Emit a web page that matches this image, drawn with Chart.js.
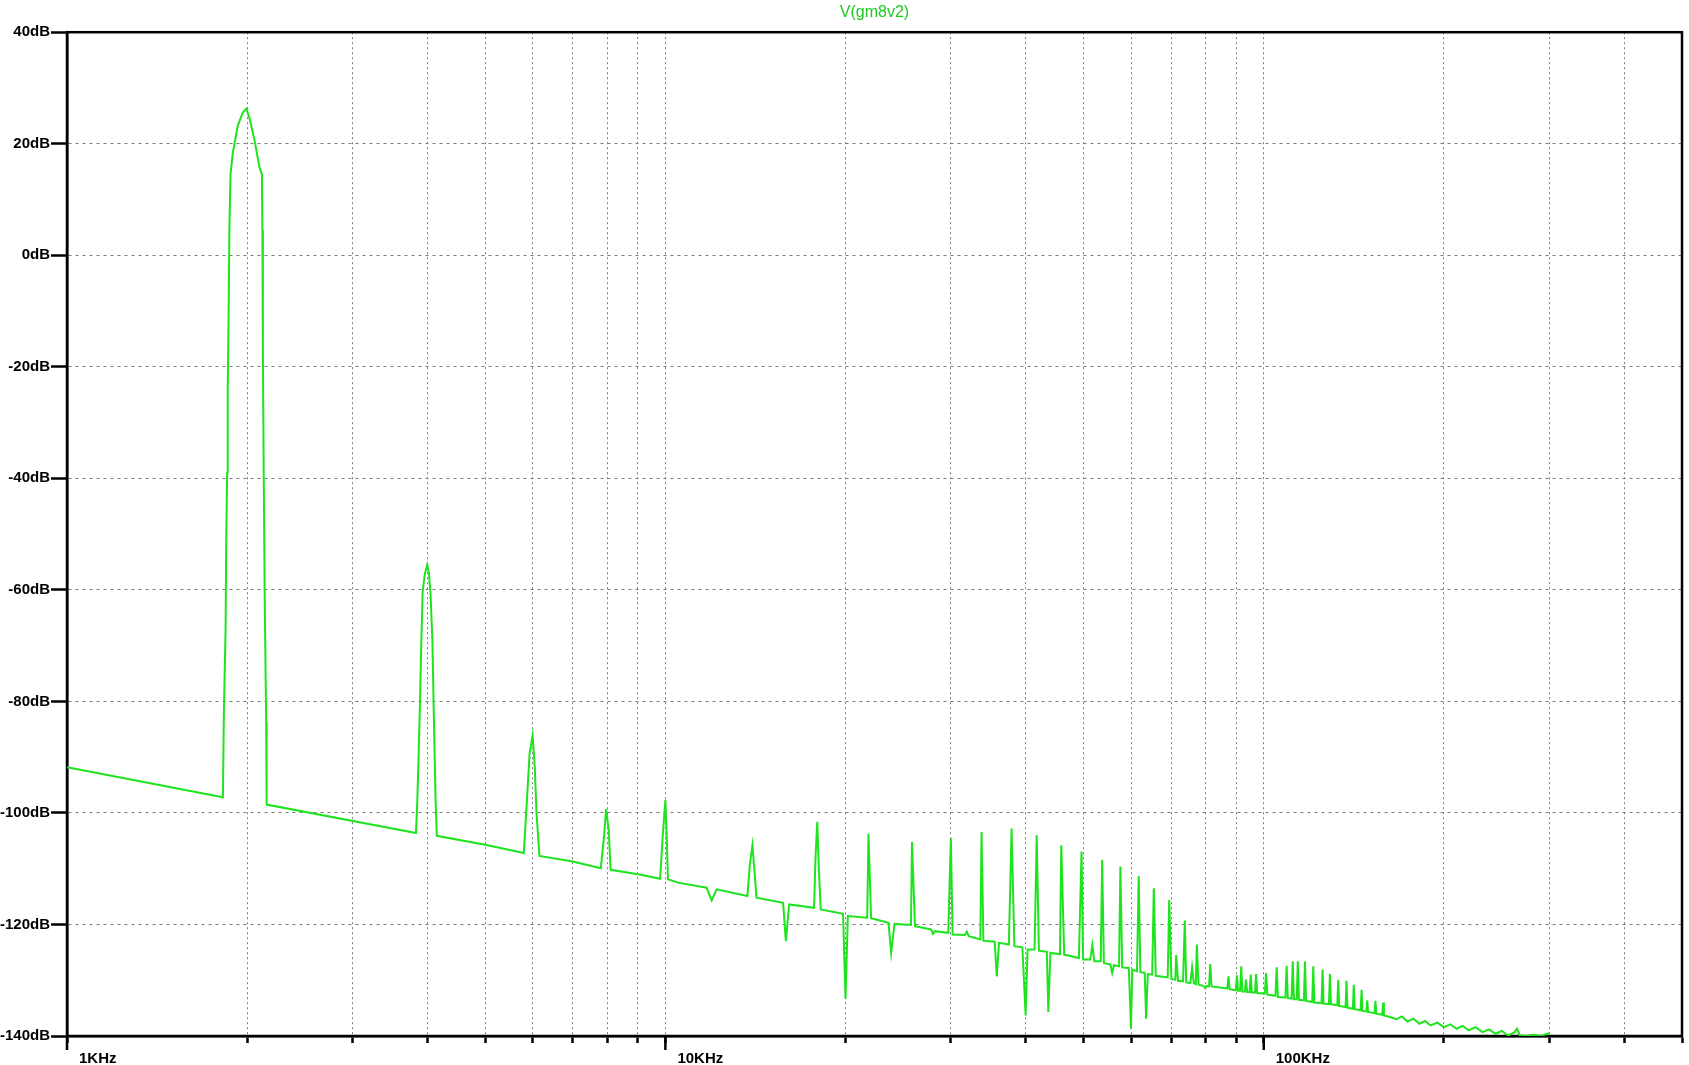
<!DOCTYPE html>
<html>
<head>
<meta charset="utf-8">
<script src="https://cdn.jsdelivr.net/npm/chart.js@4/dist/chart.umd.min.js"></script>
<style>
  html, body { margin: 0; padding: 0; background: #fff; }
  #wrap { width: 1689px; height: 1065px; position: relative; }
</style>
</head>
<body>
<div id="wrap"><canvas id="c"></canvas></div>
<script>
const traceName = 'V(gm8v2)';

// Frequency (kHz) and magnitude (dB)
const freqKHz = [
  1.0, 1.822, 1.829, 1.841, 1.845, 1.852, 1.856, 1.863, 1.868, 1.876, 1.893, 1.929, 1.967, 1.994,
  2.019, 2.058, 2.097, 2.117, 2.121, 2.125, 2.132, 2.140, 2.152, 2.156,
  3.830, 3.850, 3.870, 3.890, 3.910, 3.930, 3.965, 4.000, 4.025, 4.050, 4.080, 4.100, 4.130, 4.150,
  5.000, 5.800, 5.870, 5.930, 6.000, 6.050, 6.090, 6.160,
  7.000, 7.800, 7.900, 7.960, 8.040, 8.100,
  9.000, 9.800, 9.900, 10.00, 10.05, 10.10,
  10.50, 11.72, 11.95, 12.18, 13.71, 13.85, 13.98, 14.08, 14.20,
  15.73, 15.90, 16.10, 17.72, 17.82, 17.94, 18.05, 18.18,
  19.81, 20.00, 20.18, 21.74, 21.85, 22.07, 23.60, 23.84, 24.15,
  25.73, 25.83, 26.13, 27.80, 28.00, 28.20, 29.70, 30.00, 30.20,
  31.66, 31.90, 32.15, 33.60, 33.76, 34.00, 35.50, 35.80, 36.10,
  37.50, 37.90, 38.30, 39.50, 40.00, 40.30, 41.40, 41.74, 42.10,
  43.40, 43.65, 44.00, 45.65, 45.88, 46.40, 49.10, 49.60, 49.90,
  51.30, 51.70, 52.10, 53.40, 53.70, 54.05, 55.40, 55.80, 56.20,
  57.30, 57.60, 58.00, 59.50, 60.00, 60.30, 61.40, 61.80, 62.20,
  63.25, 63.60, 64.00, 65.10, 65.50, 66.00, 69.10, 69.50, 70.10,
  71.15, 71.40, 71.90, 73.30, 73.80, 74.20, 75.40, 75.90, 76.40,
  77.00, 77.30, 77.80, 79.30, 79.90, 80.35, 81.00, 81.40, 81.80,
  85.70, 86.90, 87.30, 87.70, 89.80, 90.20, 90.60, 91.30, 91.70,
  92.10, 93.00, 93.40, 93.80, 94.70, 95.10, 95.50, 96.70, 97.10,
  97.50, 100.4, 100.9, 101.4, 104.6, 105.1, 105.6, 108.7, 109.2,
  109.7, 111.3, 111.8, 112.3, 113.5, 114.0, 114.5, 116.7, 117.2,
  117.7, 120.5, 121.0, 121.5, 124.9, 125.4, 125.9, 128.5, 129.0,
  129.5, 132.7, 133.2, 133.7, 137.0, 137.5, 138.0, 140.9, 141.4,
  141.9, 145.2, 145.7, 146.2, 148.4, 148.9, 149.4, 153.2, 153.7,
  154.2, 157.8, 158.3, 158.8, 162.5, 166.6,
  170, 174, 178, 182, 186, 190, 195, 200,
  205, 210, 215, 220, 226, 232, 238, 244, 250,
  256, 262, 265, 268, 275, 282, 290, 300
];
const magDb = [
  -91.8, -97.2, -81.6, -66.8, -52.0, -39.0, -24.2, -9.4, 4.5, 14.5, 18.4, 23.2, 25.6, 26.3,
  24.5, 20.6, 15.8, 14.5, 4.5, -17.2, -39.8, -61.6, -83.7, -98.5,
  -103.6, -97.7, -89.4, -79.9, -69.2, -60.3, -57.0, -55.5, -57.0, -60.5, -69.2, -81.1, -97.7, -104.1,
  -105.7, -107.2, -97.7, -89.4, -86.1, -91.8, -100.0, -107.7,
  -108.7, -109.9, -104.0, -99.3, -103.0, -110.2,
  -111.0, -111.8, -104.0, -97.7, -104.0, -111.9,
  -112.5, -113.4, -115.7, -113.7, -114.9, -109.0, -105.8, -110.0, -115.2,
  -116.1, -123.0, -116.4, -117.0, -108.0, -101.6, -110.0, -117.3,
  -118.1, -133.3, -118.5, -118.8, -103.7, -118.9, -119.7, -125.1, -119.9,
  -120.1, -105.2, -120.3, -120.9, -121.7, -121.2, -121.5, -104.5, -121.8,
  -121.9, -121.3, -122.1, -122.7, -103.4, -122.9, -123.1, -129.3, -123.3,
  -123.6, -102.8, -123.9, -124.1, -136.3, -124.5, -124.5, -104.0, -124.7,
  -124.9, -135.7, -125.1, -125.3, -105.8, -125.4, -126.0, -106.9, -126.3,
  -126.3, -123.7, -126.6, -126.6, -108.4, -126.9, -127.2, -128.7, -127.3,
  -127.5, -109.6, -127.7, -127.8, -138.7, -128.1, -128.4, -111.3, -128.5,
  -128.7, -136.9, -128.9, -129.0, -113.5, -129.2, -129.5, -115.6, -129.8,
  -129.9, -125.5, -130.1, -130.2, -119.3, -130.4, -130.5, -127.7, -130.5,
  -130.7, -123.6, -130.8, -131.0, -131.4, -131.0, -131.1, -127.1, -131.1,
  -131.4, -131.5, -129.3, -131.6, -131.8, -129.1, -131.9, -131.9, -127.5,
  -132.0, -132.0, -129.9, -132.1, -132.1, -129.0, -132.2, -132.2, -128.9,
  -132.3, -132.4, -128.7, -132.6, -132.8, -127.7, -133.0, -133.1, -127.4,
  -133.2, -133.3, -126.6, -133.4, -133.4, -126.6, -133.5, -133.6, -126.6,
  -133.7, -133.9, -127.5, -134.0, -134.1, -128.1, -134.2, -134.3, -128.9,
  -134.3, -134.5, -129.9, -134.6, -134.8, -130.1, -134.9, -135.1, -130.8,
  -135.2, -135.4, -131.7, -135.5, -135.6, -133.6, -135.7, -135.9, -133.7,
  -136.0, -136.2, -134.0, -136.3, -136.6, -137.0,
  -136.5, -137.4, -136.9, -137.8, -137.3, -138.1, -137.6, -138.4,
  -137.9, -138.7, -138.2, -139.0, -138.4, -139.3, -138.8, -139.6, -139.1,
  -139.9, -139.4, -138.7, -139.9, -140.0, -139.8, -140.0, -139.5
];

// Axis ticks
const xTickValues = [
  1000, 2000, 3000, 4000, 5000, 6000, 7000, 8000, 9000,
  10000, 20000, 30000, 40000, 50000, 60000, 70000, 80000, 90000,
  100000, 200000, 300000, 400000, 500000
];
const xMajorTicks = [1000, 10000, 100000];
const xMajorLabels = ['1KHz', '10KHz', '100KHz'];
const yTickValues = [40, 20, 0, -20, -40, -60, -80, -100, -120, -140];
const yUnit = 'dB';

const axisFont = { family: "'Liberation Sans', Arial, sans-serif", size: 15, weight: 'bold' };
const gridColor = '#7c7c7c';
const traceColor = '#1ee41e';

const framePlugin = {
  id: 'frame',
  beforeDatasetsDraw(chart) {
    const { ctx, chartArea: a, scales: { x } } = chart;
    ctx.save();
    ctx.strokeStyle = '#000';
    ctx.lineWidth = 2.5;
    ctx.strokeRect(a.left, a.top, a.right - a.left, a.bottom - a.top);
    xMajorTicks.forEach(v => {
      const px = x.getPixelForValue(v);
      ctx.beginPath();
      ctx.moveTo(px, a.bottom);
      ctx.lineTo(px, a.bottom + 14);
      ctx.stroke();
    });
    ctx.restore();
  }
};

new Chart(document.getElementById('c'), {
  type: 'line',
  data: {
    datasets: [{
      label: traceName,
      data: freqKHz.map((f, i) => ({ x: f * 1000, y: magDb[i] })),
      borderColor: traceColor,
      borderWidth: 2,
      pointRadius: 0,
      tension: 0,
      fill: false
    }]
  },
  options: {
    responsive: true,
    maintainAspectRatio: false,
    animation: false,
    devicePixelRatio: 1,
    layout: { padding: { left: 0, right: 3, top: 0, bottom: 0 } },
    plugins: {
      legend: { display: false },
      tooltip: { enabled: false },
      title: {
        display: true,
        text: traceName,
        color: '#1ec81e',
        fullSize: false,
        font: { family: "'Liberation Sans', Arial, sans-serif", size: 16, weight: 'normal', lineHeight: 1.2 },
        padding: { top: 3, bottom: 10 }
      }
    },
    scales: {
      x: {
        type: 'logarithmic',
        min: 1000,
        max: 500000,
        afterBuildTicks: (scale) => { scale.ticks = xTickValues.map(v => ({ value: v })); },
        afterFit: (scale) => { scale.height = 29; },
        ticks: {
          autoSkip: false,
          maxRotation: 0,
          minRotation: 0,
          align: 'start',
          labelOffset: 12,
          padding: 7,
          color: '#000',
          font: axisFont,
          callback: (v) => {
            const i = xMajorTicks.indexOf(v);
            return i >= 0 ? xMajorLabels[i] : '';
          }
        },
        grid: {
          color: gridColor,
          lineWidth: 1,
          drawTicks: true,
          tickLength: 7,
          tickColor: '#000',
          tickWidth: 2.5
        },
        border: { display: true, color: '#000', width: 2.5, dash: [2, 3] }
      },
      y: {
        type: 'linear',
        min: -140,
        max: 40,
        afterBuildTicks: (scale) => { scale.ticks = yTickValues.map(v => ({ value: v })); },
        afterFit: (scale) => { scale.width = 67; },
        ticks: {
          padding: 1,
          color: '#000',
          font: axisFont,
          callback: (v) => v + yUnit
        },
        grid: {
          color: gridColor,
          lineWidth: 1,
          drawTicks: true,
          tickLength: 16,
          tickColor: '#000',
          tickWidth: 2.5
        },
        border: { display: true, color: '#000', width: 2.5, dash: [3, 4] }
      }
    }
  },
  plugins: [framePlugin]
});
</script>
</body>
</html>
